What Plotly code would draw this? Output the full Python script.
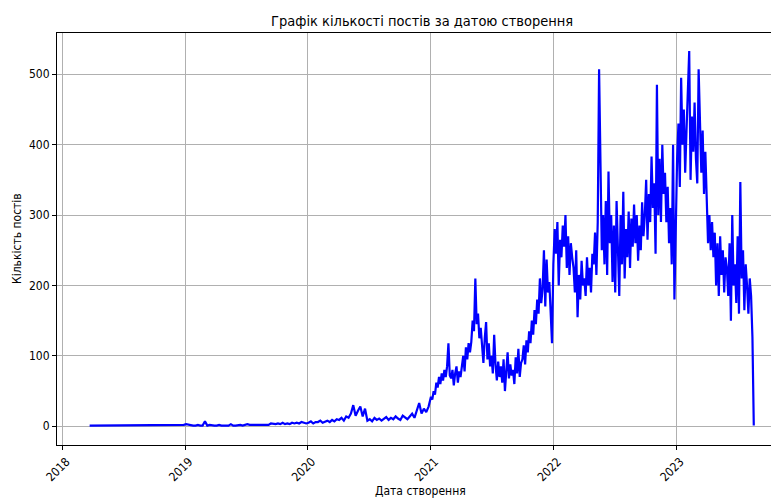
import pandas as pd
import plotly.graph_objects as go

# Weekly counts, 2018-03-23 .. 2020-12-25
weekly_2018 = [1, 1, 1, 1, 1, 1, 1, 1, 1, 1, 1, 1, 1, 1, 1, 1, 1, 1, 1, 1,
               1, 1, 1, 1, 1, 1, 1, 1, 1, 1, 1, 1, 1, 1, 1, 1, 1, 1, 1, 1, 2]
weekly_2019 = [3, 2, 1, 1, 1, 2, 1, 1, 7, 1, 2, 1, 1, 1, 2, 1, 1, 2, 1, 3, 1, 1, 2, 2, 1,
               2, 3, 2, 2, 3, 2, 3, 2, 3, 3, 2, 4, 3, 3, 4, 3, 5, 3, 4, 3, 5, 4, 5, 4, 6, 5, 4]
weekly_2020 = [5, 7, 4, 6, 6, 8, 5, 7, 8, 6, 9, 7, 10, 9, 12, 8, 14, 12, 18, 30, 15,
               22, 28, 14, 25, 8, 10, 7, 12, 9, 11, 8, 10, 13, 9, 12, 10, 14,
               11, 9, 15, 12, 10, 14, 18, 12, 22, 33, 18, 25, 20, 28]

# Counts every 4 days, 2021-01-01 .. 2023-08-18
posts_2021 = [42, 38, 50, 45, 62, 55, 70, 60,
              75, 65, 80, 70, 85, 118, 72,
              68, 80, 58, 75, 85, 62, 78, 70,
              85, 100, 78, 112, 95, 118, 105,
              120, 150, 135, 210, 145, 160, 125, 140,
              110, 90, 125, 148, 95, 118, 85,
              100, 75, 130, 88, 65, 92, 70, 85,
              62, 95, 50, 78, 105, 68, 88, 72,
              80, 60, 98, 75, 110, 70, 90,
              95, 115, 88, 122, 105, 135, 118, 150,
              130, 165, 145, 180, 160, 210, 175,
              195, 250, 170, 237, 190, 205, 160, 118]
posts_2022 = [230, 280, 245, 290, 200, 265, 240, 285,
              255, 300, 225, 270, 215, 260, 240,
              225, 190, 250, 155, 215, 180, 235, 200,
              210, 185, 240, 200, 225, 190, 245,
              230, 275, 215, 290, 507, 340, 250, 300,
              230, 320, 215, 362, 260, 300, 205,
              285, 190, 320, 240, 185, 300, 230, 333,
              210, 280, 240, 305, 225, 295, 255, 315,
              260, 300, 235, 285, 250, 318, 270,
              300, 350, 265, 330, 290, 383, 310, 345,
              245, 485, 300, 380, 290, 400, 330,
              360, 290, 340, 260, 310, 230, 400, 180]
posts_2023 = [300, 380, 430, 340, 495, 400, 450, 360,
              420, 470, 533, 350, 440, 390, 460,
              380, 345, 507, 410, 360, 420, 330, 390,
              305, 260, 300, 250, 290, 240, 275,
              200, 260, 185, 270, 215, 250, 190, 240,
              225, 185, 260, 150, 300, 200, 230,
              175, 270, 160, 347, 210, 250, 165, 230,
              200, 160, 210, 185, 127, 1]

y_ticks = [0, 100, 200, 300, 400, 500]
x_ticks = ["2018", "2019", "2020", "2021", "2022", "2023"]

vals_a = weekly_2018 + weekly_2019 + weekly_2020
vals_b = posts_2021 + posts_2022 + posts_2023
dates_a = pd.date_range("2018-03-23", periods=len(vals_a), freq="7D")
dates_b = pd.date_range("2021-01-01", periods=len(vals_b), freq="4D")
dates = list(dates_a) + list(dates_b)
values = vals_a + vals_b

FONT = "DejaVu Sans Condensed, DejaVu Sans, sans-serif"

# page is offset by the 8px body margin; plot area in page px: x 57..779, y 33..445
PL, PR, PT, PB = 57, 779, 33, 445


def fx(px):
    return (px - PL) / (PR - PL)


def fy(py):
    return (PB - py) / (PB - PT)


fig = go.Figure(go.Scatter(x=dates, y=values, mode="lines",
                           line=dict(color="#0000ff", width=2.2),
                           hoverinfo="skip"))

fig.update_layout(
    width=771, height=490,
    margin=dict(l=PL - 8, r=0, t=PT - 8, b=490 - (PB - 8), autoexpand=False),
    paper_bgcolor="white", plot_bgcolor="white",
    font=dict(family=FONT, size=11, color="black"),
    showlegend=False,
    annotations=[
        dict(text="Графік кількості постів за датою створення",
             x=fx(422), y=fy(21), xref="paper", yref="paper",
             xanchor="center", yanchor="middle", showarrow=False,
             font=dict(size=14.5, family=FONT, color="black")),
        dict(text="Дата створення",
             x=fx(421), y=fy(491), xref="paper", yref="paper",
             xanchor="center", yanchor="middle", showarrow=False,
             font=dict(size=12, family=FONT, color="black")),
        dict(text="Кількість постів", textangle=-90,
             x=fx(17), y=fy(239), xref="paper", yref="paper",
             xanchor="center", yanchor="middle", showarrow=False,
             font=dict(size=12, family=FONT, color="black")),
    ],
)

fig.update_xaxes(
    type="date", automargin=False,
    range=["2017-12-16", "2023-11-02"],
    tickvals=[f"{t}-01-01" for t in x_ticks], ticktext=x_ticks,
    tickangle=-45, tickfont=dict(size=12), ticklabelshift=4,
    ticks="outside", ticklen=4, tickcolor="black",
    showline=True, linecolor="black", linewidth=1, mirror=True,
    showgrid=True, gridcolor="#b0b0b0", gridwidth=1,
    zeroline=False,
)
fig.update_yaxes(
    automargin=False,
    range=[-26.6, 558.6],
    tickvals=y_ticks, tickfont=dict(size=12),
    ticks="outside", ticklen=4, tickcolor="black",
    showline=True, linecolor="black", linewidth=1, mirror=False,
    showgrid=True, gridcolor="#b0b0b0", gridwidth=1,
    zeroline=False,
)

fig.write_html("out.html")
